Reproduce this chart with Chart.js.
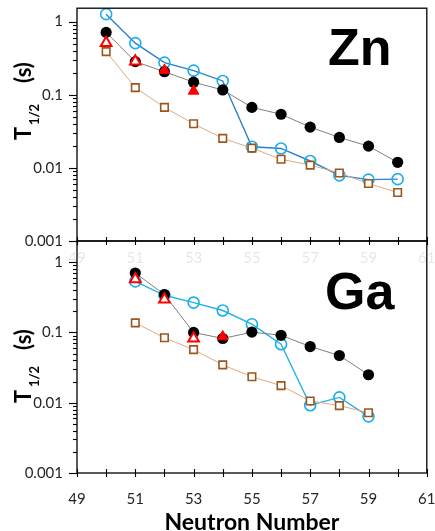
<!DOCTYPE html>
<html><head><meta charset="utf-8">
<script src="https://cdn.jsdelivr.net/npm/chart.js@4"></script>
<style>
html,body{margin:0;padding:0;background:#fff;}
#wrap{position:relative;width:435px;height:531px;overflow:hidden;}
canvas{position:absolute;left:0;top:0;}
</style></head><body>
<div id="wrap">
<canvas id="ga" width="435" height="531"></canvas>
<canvas id="zn" width="435" height="531"></canvas>
</div>
<script>
// ---------- data (half-lives in seconds vs neutron number) ----------
const neutronZn = [50, 51, 52, 53, 54, 55, 56, 57, 58, 59, 60];
const znBlack = [0.71, 0.283, 0.206, 0.148, 0.116, 0.067, 0.054, 0.036, 0.026, 0.0198, 0.0119];
const znCyan  = [1.26, 0.506, 0.274, 0.213, 0.154, 0.0194, 0.0184, 0.0124, 0.0079, 0.0069, 0.0070];
const znBrown = [0.388, 0.125, 0.067, 0.040, 0.0253, 0.0186, 0.0131, 0.0109, 0.0085, 0.0061, 0.0046];
const znTriOpenN = [50, 51];
const znTriOpenT = [0.51, 0.284];
const znTriFillN = [52, 53];
const znTriFillT = [0.216, 0.112];

const neutronGa = [51, 52, 53, 54, 55, 56, 57, 58, 59];
const gaBlack = [0.70, 0.346, 0.100, 0.082, 0.101, 0.091, 0.063, 0.047, 0.025];
const gaCyan  = [0.533, 0.338, 0.266, 0.205, 0.131, 0.068, 0.0092, 0.0119, 0.0064];
const gaBrown = [0.137, 0.084, 0.057, 0.0346, 0.0234, 0.0175, 0.0106, 0.0091, 0.0072];
const gaTriOpenN = [51, 52, 53];
const gaTriOpenT = [0.574, 0.294, 0.082];
const gaTriFillN = [54];
const gaTriFillT = [0.087];

const xTickLabels = [49, 51, 53, 55, 57, 59, 61];
const yTickValues = [0.001, 0.01, 0.1, 1];
const yTickLabels = ['0.001', '0.01', '0.1', '1'];

// ---------- helpers ----------
const pts = (xs, ys) => xs.map((x, i) => ({x: x, y: ys[i]}));
const TICK_FONT = {family: 'Lato, "Open Sans", sans-serif', size: 15};

function yLabel(v) {
  const l = Math.log10(v);
  if (Math.abs(l - Math.round(l)) > 1e-6) return '';
  const idx = yTickValues.findIndex(t => Math.abs(Math.log10(t) - l) < 1e-6);
  return idx >= 0 ? yTickLabels[idx] : '';
}

const decor = {
  id: 'decor',
  afterDraw(chart, args, o) {
    const ctx = chart.ctx;
    const a = chart.chartArea;
    const ys = chart.scales.y, xs = chart.scales.x;
    ctx.save();
    ctx.strokeStyle = '#000';
    ctx.lineWidth = 1.3;
    // frame
    ctx.strokeRect(a.left, a.top, a.right - a.left, a.bottom - a.top);
    // y ticks (major + minor, outside)
    ctx.lineWidth = 1.1;
    for (let k = -3; k <= 0; k++) {
      for (let m = 1; m <= 9; m++) {
        const v = m * Math.pow(10, k);
        if (v > ys.max * 1.0001) continue;
        const py = Math.round(ys.getPixelForValue(v)) + 0.5;
        const len = m === 1 ? 8 : 4;
        ctx.beginPath();
        ctx.moveTo(a.left - len, py);
        ctx.lineTo(a.left, py);
        ctx.stroke();
      }
    }
    // x ticks (cross)
    for (let n = 49; n <= 61; n++) {
      const px = Math.round(xs.getPixelForValue(n)) + 0.5;
      ctx.beginPath();
      ctx.moveTo(px, a.bottom - 4);
      ctx.lineTo(px, a.bottom + 4);
      ctx.stroke();
    }
    // y-axis title with subscript
    ctx.fillStyle = '#000';
    ctx.translate(30.5, o.titleY);
    ctx.rotate(-Math.PI / 2);
    ctx.textBaseline = 'alphabetic';
    ctx.textAlign = 'left';
    ctx.font = 'bold 22px Lato, "Open Sans", sans-serif';
    ctx.fillText('T', 0, 0);
    ctx.font = 'bold 13px Lato, "Open Sans", sans-serif';
    ctx.fillText('1/2', o.subOff, 8);
    ctx.font = 'bold 22px Lato, "Open Sans", sans-serif';
    ctx.fillText('(s)', o.sOff, 0);
    ctx.setTransform(1, 0, 0, 1, 0, 0);
    // element label
    ctx.font = 'bold 52px "Liberation Sans", Arial, sans-serif';
    ctx.fillText(o.label, o.labelX, o.labelY);
    if (o.xTitle) {
      ctx.font = 'bold 23px Lato, "Open Sans", sans-serif';
      ctx.textAlign = 'center';
      ctx.fillText(o.xTitle, (a.left + a.right) / 2, 530);
    }
    ctx.restore();
  }
};

function makeDatasets(nx, black, cyan, brown, toN, toT, tfN, tfT, cyanLine) {
  return [
    {data: pts(nx, cyan), borderColor: cyanLine, borderWidth: 1.4,
     pointBackgroundColor: 'rgba(255,255,255,0)', pointBorderColor: '#1aaeea', pointBorderWidth: 1.6,
     pointRadius: 5.5, pointStyle: 'circle', order: 5},
    {data: pts(nx, brown), borderColor: '#dcaa80', borderWidth: 1,
     pointBackgroundColor: '#fff', pointBorderColor: '#9c561c', pointBorderWidth: 1.6,
     pointRadius: 5.3, pointStyle: 'rect', order: 4},
    {data: pts(nx, black), borderColor: '#7f7f7f', borderWidth: 1,
     pointBackgroundColor: '#000', pointBorderColor: '#000', pointBorderWidth: 0,
     pointRadius: 5.6, pointStyle: 'circle', order: 3},
    {data: pts(tfN, tfT), showLine: false,
     pointBackgroundColor: '#ff0000', pointBorderColor: '#ff0000', pointBorderWidth: 1,
     pointRadius: 6.2, pointStyle: 'triangle', order: 2},
    {data: pts(toN, toT), showLine: false,
     pointBackgroundColor: '#fff', pointBorderColor: '#ff0000', pointBorderWidth: 2,
     pointRadius: 6.2, pointStyle: 'triangle', order: 1}
  ];
}

function makeChart(id, datasets, yMax, padTop, xHeight, xTickColor, xPad, deco) {
  return new Chart(document.getElementById(id), {
    type: 'line',
    data: {datasets: datasets},
    plugins: [decor],
    options: {
      responsive: false, animation: false, events: [],
      layout: {padding: {top: padTop, right: 8, left: 0, bottom: 0}},
      plugins: {legend: {display: false}, tooltip: {enabled: false}, decor: deco},
      scales: {
        x: {type: 'linear', min: 49, max: 61,
            grid: {display: false, drawTicks: false}, border: {display: false},
            afterFit: s => { s.height = xHeight; s.paddingLeft = 0; s.paddingRight = 0; },
            ticks: {stepSize: 1, autoSkip: false, maxRotation: 0, padding: xPad,
                    color: xTickColor, font: TICK_FONT,
                    callback: v => xTickLabels.includes(v) ? String(v) : ''}},
        y: {type: 'logarithmic', min: 0.001, max: yMax,
            grid: {display: false, drawTicks: false}, border: {display: false},
            afterFit: s => { s.width = 77; s.paddingTop = 0; s.paddingBottom = 0; },
            ticks: {autoSkip: false, padding: 14, color: '#262626', font: TICK_FONT,
                    callback: v => yLabel(v)}}
      }
    }
  });
}

makeChart('ga',
  makeDatasets(neutronGa, gaBlack, gaCyan, gaBrown, gaTriOpenN, gaTriOpenT, gaTriFillN, gaTriFillT, '#22b2ea'),
  2.0, 241, 58, '#262626', 17,
  {label: 'Ga', labelX: 325, labelY: 309, titleY: 403, subOff: 16, sOff: 53, xTitle: 'Neutron Number'});

makeChart('zn',
  makeDatasets(neutronZn, znBlack, znCyan, znBrown, znTriOpenN, znTriOpenT, znTriFillN, znTriFillT, '#2a80cf'),
  1.52, 8, 290, 'rgba(0,0,0,0.10)', 8,
  {label: 'Zn', labelX: 328, labelY: 65, titleY: 140, subOff: 15, sOff: 57});
</script>
</body></html>
